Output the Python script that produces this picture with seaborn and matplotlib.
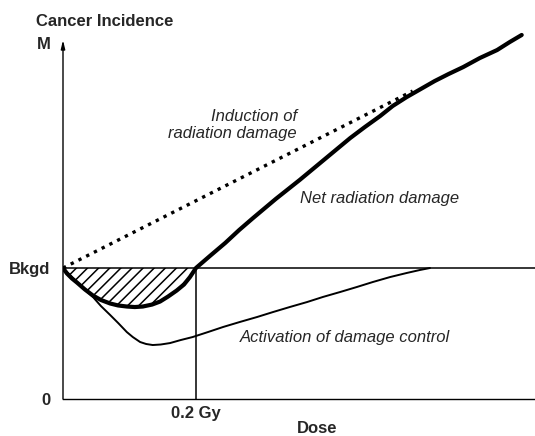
import matplotlib
matplotlib.use("Agg")
import matplotlib.pyplot as plt
import seaborn as sns

# values (dose in Gy, incidence relative to background = 1)
net_dose = [0, 0.006, 0.0135, 0.021, 0.033, 0.045, 0.057, 0.071, 0.083, 0.096, 0.108,
            0.120, 0.134, 0.146, 0.158, 0.171, 0.182, 0.191, 0.200,
            0.221, 0.244, 0.265, 0.286, 0.320, 0.356, 0.394, 0.432, 0.454, 0.477,
            0.496, 0.517, 0.538, 0.559, 0.580, 0.602, 0.627, 0.653, 0.672, 0.690]
net_level = [1.000, 0.958, 0.920, 0.889, 0.836, 0.790, 0.756, 0.729, 0.714, 0.706, 0.702,
             0.706, 0.721, 0.744, 0.782, 0.828, 0.874, 0.931, 1.000,
             1.092, 1.191, 1.290, 1.382, 1.527, 1.672, 1.832, 1.992, 2.076, 2.160,
             2.237, 2.305, 2.366, 2.427, 2.481, 2.534, 2.603, 2.664, 2.725, 2.779]

control_dose = [0, 0.012, 0.026, 0.035, 0.045, 0.057, 0.071, 0.083, 0.096, 0.105, 0.116,
                0.125, 0.135, 0.147, 0.161, 0.177, 0.195, 0.218, 0.241, 0.266, 0.292,
                0.316, 0.341, 0.367, 0.391, 0.417, 0.442, 0.466, 0.492, 0.517, 0.537, 0.552]
control_level = [1.000, 0.939, 0.870, 0.824, 0.779, 0.710, 0.641, 0.580, 0.511, 0.473, 0.435,
                 0.420, 0.412, 0.416, 0.427, 0.450, 0.473, 0.511, 0.550, 0.588, 0.626,
                 0.664, 0.702, 0.740, 0.779, 0.817, 0.855, 0.893, 0.931, 0.962, 0.985, 1.000]

induction_dose = [0, 0.526]
induction_level = [1.0, 2.351]

bkgd = 1.0
m_level = 2.72
threshold = 0.2
dose_max = 0.71
level_max = 3.046

sns.set_style("white")
plt.rcParams['font.family'] = ['Liberation Sans', 'DejaVu Sans']
plt.rcParams['hatch.linewidth'] = 1.1

fig = plt.figure(figsize=(5.35, 4.36), dpi=100)
ax = fig.add_axes([63 / 535, 37 / 436, 472 / 535, 399 / 436])

# background level and threshold marker
ax.plot([0, dose_max], [bkgd, bkgd], color="black", lw=1.1)
ax.plot([threshold, threshold], [0, bkgd], color="black", lw=1.1)

# hatched hormesis region
n_low = net_dose.index(threshold) + 1
ax.fill_between(net_dose[:n_low], net_level[:n_low], bkgd,
                facecolor="none", edgecolor="black", hatch="///", lw=0)

sns.lineplot(x=induction_dose, y=induction_level, ax=ax, color="black",
             lw=2.4, linestyle=(0, (1, 1.6)), estimator=None, sort=False)
sns.lineplot(x=control_dose, y=control_level, ax=ax, color="black",
             lw=1.4, estimator=None, sort=False, solid_joinstyle="round")
sns.lineplot(x=net_dose, y=net_level, ax=ax, color="black",
             lw=3.0, estimator=None, sort=False, solid_capstyle="round",
             solid_joinstyle="round")

# y axis with arrow
ax.annotate("", xy=(0, 2.74), xytext=(0, 0),
            arrowprops=dict(arrowstyle="-|>,head_length=0.5,head_width=0.12",
                            color="black", lw=1.0, shrinkA=0, shrinkB=0))

ax.set_xlim(0, dose_max)
ax.set_ylim(0, level_max)
for s in ["top", "right", "left"]:
    ax.spines[s].set_visible(False)
ax.spines["bottom"].set_color("black")
ax.spines["bottom"].set_linewidth(1.0)

ax.set_yticks([0, bkgd, m_level])
ax.set_yticklabels(["0", "Bkgd", "M"], fontsize=12, fontweight="bold")
ax.set_xticks([threshold])
ax.set_xticklabels(["0.2 Gy"], fontsize=12, fontweight="bold")
ax.set_xticks([0.379], minor=True)
ax.tick_params(axis="y", length=0, pad=9)
ax.tick_params(axis="x", which="major", length=0, pad=5)
ax.tick_params(axis="x", which="minor", length=3, direction="in", width=0.8)

ax.set_xlabel("Dose", fontsize=12, fontweight="bold")
ax.xaxis.set_label_coords(254 / 472, -29 / 399)
ax.xaxis.label.set_va("center")

fig.text(36 / 535, 1 - 22 / 436, "Cancer Incidence", fontsize=12,
         fontweight="bold", ha="left", va="center")

ax.text(0.352, 2.092, "Induction of\nradiation damage", fontsize=12, style="italic",
        ha="right", va="center", multialignment="right")
ax.text(0.356, 1.534, "Net radiation damage", fontsize=12, style="italic",
        ha="left", va="center")
ax.text(0.266, 0.473, "Activation of damage control", fontsize=12, style="italic",
        ha="left", va="center")

fig.savefig("out.png", dpi=100)
